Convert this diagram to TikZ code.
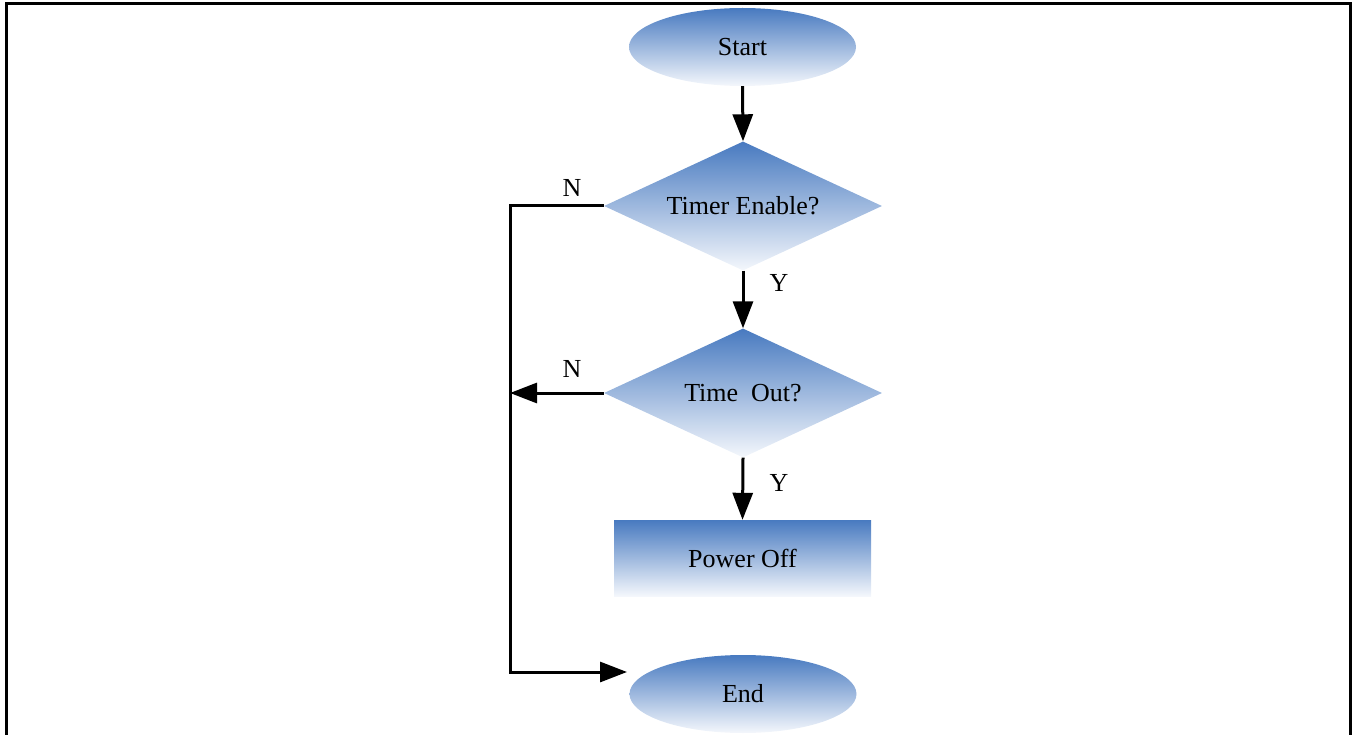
\documentclass[tikz,border=0pt]{standalone}
\usepackage{fontspec}
\setmainfont{Liberation Serif}
\usetikzlibrary{shapes.geometric,arrows.meta}
\definecolor{topblue}{RGB}{72,122,192}
\definecolor{botblue}{RGB}{244,247,252}
\tikzset{
  flowfill/.style={top color=topblue,bottom color=botblue,draw=none,inner sep=0pt,
    font=\fontsize{26}{31}\selectfont},
  term/.style={flowfill,ellipse,minimum width=227pt,minimum height=78pt},
  decide/.style={flowfill,diamond,aspect=2.155,minimum width=278pt,minimum height=129pt},
  proc/.style={flowfill,rectangle,minimum width=257pt,minimum height=76pt},
  arr/.style={line width=3pt,-{Triangle[length=27pt,width=20pt]}},
  lbl/.style={font=\fontsize{26}{31}\selectfont,inner sep=0pt},
  frame/.style={line width=3pt}
}
\begin{document}
\begin{tikzpicture}[x=1pt,y=-1pt]
\useasboundingbox (0,0) rectangle (1356,735);
\draw[frame] (6,740) -- (6,4) -- (1350,4) -- (1350,740);
\node[term] (start) at (742.5,47) {Start};
\node[decide] (d1) at (743,206) {Timer Enable?};
\node[decide] (d2) at (743,393) {Time~\ Out?};
\node[proc] (power) at (742.5,558) {Power Off};
\node[term] (end) at (743,694) {End};
\coordinate (endin) at (627,672);
\coordinate (bus) at (510,393);
\draw[arr] (start.south) -- (d1.north);
\draw[arr] (d1.south) -- (d2.north);
\draw[arr] (d2.south) -- (power.north);
\draw[arr,line join=miter] (d1.west) -- (510,206) |- (endin);
\draw[arr] (d2.west) -- (bus);
\node[lbl] (n1) at (572,188) {N};
\node[lbl] (y1) at (779,283) {Y};
\node[lbl] (n2) at (572,369) {N};
\node[lbl] (y2) at (779,483) {Y};
\end{tikzpicture}
\end{document}
